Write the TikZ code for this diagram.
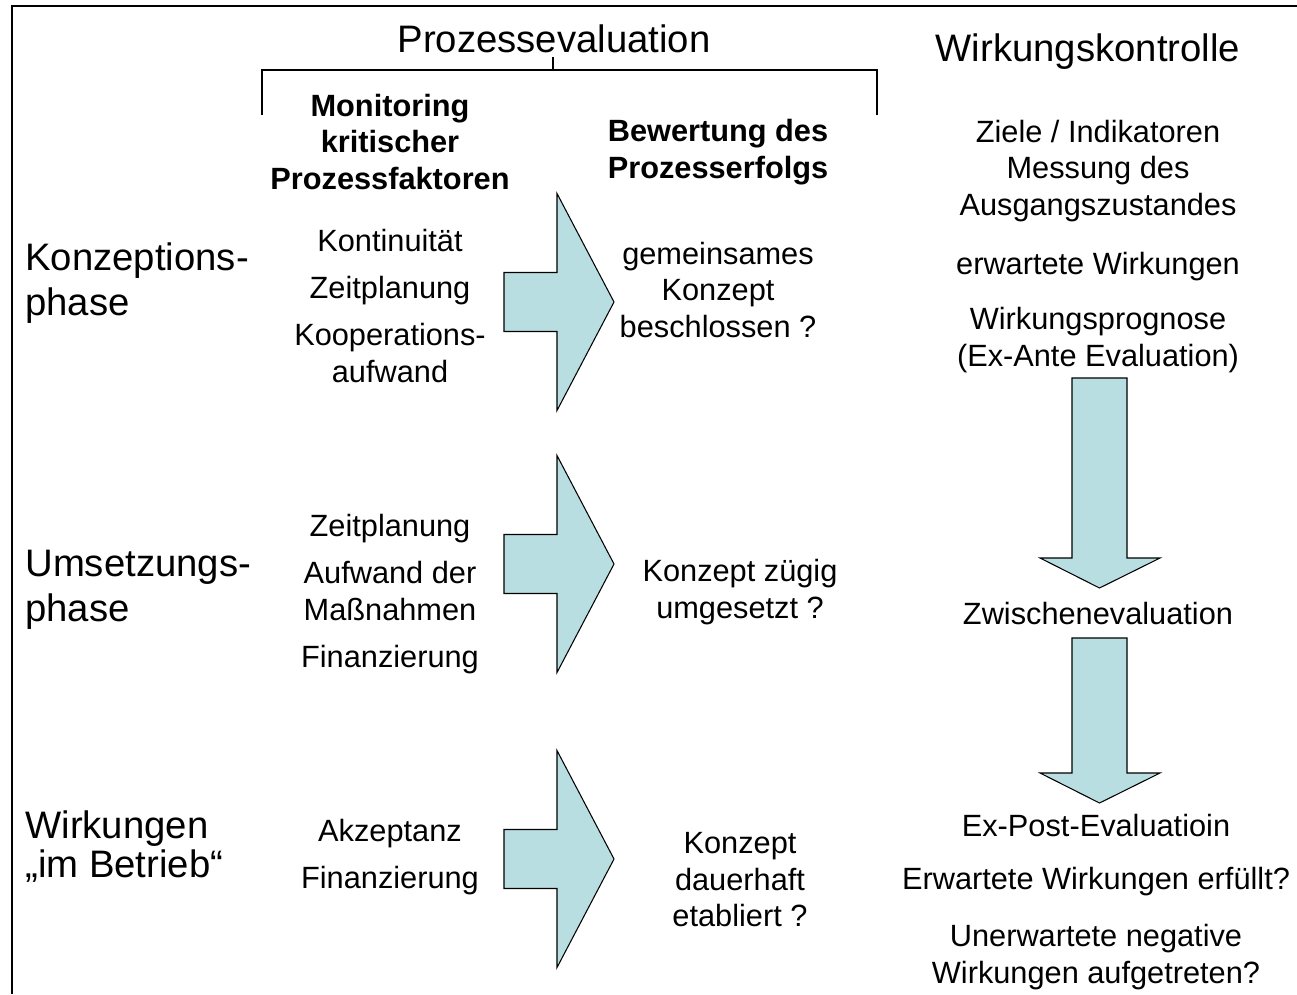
\documentclass[tikz,border=0pt]{standalone}
\usepackage{fontspec}
\setmainfont{Liberation Sans}
\definecolor{pfeilblau}{RGB}{185,222,226}
\tikzset{
  gross/.style={font=\fontsize{21.8}{25.6}\selectfont, inner sep=0pt},
  klein/.style={font=\fontsize{17.5}{20.8}\selectfont, align=center, inner sep=0pt},
  kopf/.style={font=\fontsize{17.5}{21}\selectfont\bfseries, align=center, inner sep=0pt},
  pfeil/.style={draw=black, fill=pfeilblau, line width=0.6pt, line join=miter},
}
\begin{document}
\begin{tikzpicture}[x=0.02cm,y=-0.02cm]
\useasboundingbox (0,0) rectangle (1297,994);
% rahmen
\draw[line width=1.1pt] (1297,6) -- (12,6) -- (12,994);

% ueberschriften
\node[gross] (proz) at (554,39) {Prozessevaluation};
\node[gross] (wirk) at (1088,52) {Wirkungskontrolle};
\draw[line width=0.8pt] (262,115) -- (262,70) -- (877,70) -- (877,115);
\draw[line width=0.8pt] (553,70) -- (553,57);

% phasen
\node[gross, anchor=west, align=left] (konz) at (25,283) {Konzeptions-\\phase};
\node[gross, anchor=west, align=left] (umst) at (25,590) {Umsetzungs-\\phase};
\node[gross, anchor=west, align=left] (betr) at (25,847) {Wirkungen\\[-3.4pt]„im Betrieb“};

% prozessfaktoren
\node[kopf] (moni) at (390,142) {Monitoring\\kritischer\\Prozessfaktoren};
\node[klein] (kont) at (390,241) {Kontinuität};
\node[klein] (zeit1) at (390,291) {Zeitplanung};
\node[klein] (koop) at (390,353) {Kooperations-\\aufwand};
\node[klein] (zeit2) at (390,529) {Zeitplanung};
\node[klein] (aufw) at (390,591) {Aufwand der\\Maßnahmen};
\node[klein] (fin1) at (390,660) {Finanzierung};
\node[klein] (akz) at (390,834) {Akzeptanz};
\node[klein] (fin2) at (390,881) {Finanzierung};

% prozesserfolg
\node[kopf] (bew) at (718,152) {Bewertung des\\Prozesserfolgs};
\node[klein] (erg1) at (718,290) {gemeinsames\\Konzept\\beschlossen ?};
\node[klein] (erg2) at (740,592) {Konzept zügig\\umgesetzt ?};
\node[klein] (erg3) at (740,880) {Konzept\\dauerhaft\\etabliert ?};

% wirkungskontrolle
\node[klein] (ziel) at (1098,171) {Ziele / Indikatoren\\Messung des\\Ausgangszustandes};
\node[klein] (erw) at (1098,267) {erwartete Wirkungen};
\node[klein] (prog) at (1098,340) {Wirkungsprognose\\(Ex-Ante Evaluation)};
\node[klein] (zwi) at (1098,613) {Zwischenevaluation};
\node[klein] (post) at (1096,825) {Ex-Post-Evaluatioin};
\node[klein] (erf) at (1096,882) {Erwartete Wirkungen erfüllt?};
\node[klein] (unerw) at (1096,957) {Unerwartete negative\\Wirkungen aufgetreten?};

% pfeile nach rechts
\foreach \m in {302,564,859}
  \draw[pfeil] (504,\m-29.5) -- (557,\m-29.5) -- (557,\m-108.5) -- (614,\m)
    -- (557,\m+108.5) -- (557,\m+29.5) -- (504,\m+29.5) -- cycle;

% pfeile nach unten
\foreach \o/\u in {378/558, 638/773}
  \draw[pfeil] (1072,\o) -- (1127,\o) -- (1127,\u) -- (1160,\u) -- (1099.5,\u+30)
    -- (1040,\u) -- (1072,\u) -- cycle;
\end{tikzpicture}
\end{document}
